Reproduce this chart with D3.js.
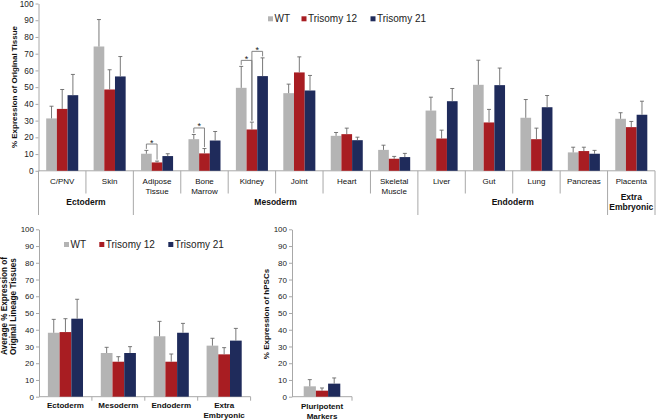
<!DOCTYPE html>
<html><head><meta charset="utf-8">
<script src="https://cdn.jsdelivr.net/npm/d3@7"></script>
<style>body{margin:0;background:#fff}svg{display:block}text{font-family:"Liberation Sans",Arial,Helvetica,sans-serif}</style>
</head><body><svg width="656" height="420"></svg>
<script>
// ---------- DATA ----------
const series = ["WT", "Trisomy 12", "Trisomy 21"];
const yTicks = [0, 10, 20, 30, 40, 50, 60, 70, 80, 90, 100];

// Top panel: individual tissues
const tissues = ["C/PNV", "Skin", "Adipose Tissue", "Bone Marrow", "Kidney", "Joint", "Heart",
  "Skeletal Muscle", "Liver", "Gut", "Lung", "Pancreas", "Placenta"];
const tissueLabels = [["C/PNV"], ["Skin"], ["Adipose", "Tissue"], ["Bone", "Marrow"], ["Kidney"], ["Joint"],
  ["Heart"], ["Skeletal", "Muscle"], ["Liver"], ["Gut"], ["Lung"], ["Pancreas"], ["Placenta"]];
const lineages = ["Ectoderm", "Mesoderm", "Endoderm", "Extra Embryonic"];
const lineageLabels = [["Ectoderm"], ["Mesoderm"], ["Endoderm"], ["Extra", "Embryonic"]];
const tissueLineage = [0, 0, 1, 1, 1, 1, 1, 1, 2, 2, 2, 2, 3];

const wtTissue   = [31.3, 74.3, 10.2, 18.9, 49.6, 46.4, 20.9, 12.5, 36.0, 51.4, 31.7, 11.0, 31.1];
const wtTissueErr= [7.3, 16.1, 2.0, 2.8, 12.8, 5.4, 2.0, 2.8, 8.0, 14.7, 10.9, 3.1, 3.6];
const t12Tissue   = [37.0, 48.6, 5.0, 10.4, 24.7, 58.8, 21.9, 7.2, 19.3, 28.9, 18.9, 11.8, 26.1];
const t12TissueErr= [11.6, 11.8, 0.8, 2.9, 4.4, 9.3, 3.6, 1.4, 5.0, 7.8, 6.6, 2.3, 3.4];
const t21Tissue   = [45.2, 56.4, 8.8, 18.1, 56.6, 48.0, 18.3, 8.2, 41.6, 51.2, 38.0, 10.2, 33.5];
const t21TissueErr= [12.4, 11.9, 1.4, 5.4, 10.9, 9.0, 1.8, 2.2, 7.6, 10.2, 7.0, 2.0, 8.1];

// Significance brackets (tissue, from series, to series, bracket level in %)
const sigTissue = ["Adipose Tissue", "Bone Marrow", "Kidney", "Kidney"];
const sigFrom   = [0, 0, 0, 1];
const sigTo     = [1, 1, 1, 2];
const sigLevel  = [16, 25.6, 66, 71.4];

// Bottom-left panel: averages per lineage
const wtLineage    = [38.2, 26.1, 36.1, 30.5];
const wtLineageErr = [8.0, 3.4, 8.9, 4.4];
const t12Lineage    = [38.6, 20.9, 20.9, 25.3];
const t12LineageErr = [8.0, 3.0, 4.6, 4.0];
const t21Lineage    = [46.6, 26.1, 38.2, 33.5];
const t21LineageErr = [11.6, 3.8, 5.6, 7.3];

// Bottom-right panel: pluripotent markers
const pluriCats = ["Pluripotent Markers"];
const pluriLabels = [["Pluripotent", "Markers"]];
const wtPluri = [6.2], wtPluriErr = [4.0];
const t12Pluri = [3.6], t12PluriErr = [1.6];
const t21Pluri = [7.8], t21PluriErr = [3.4];

// ---------- STYLE ----------
const colors = ["#b4b4b4", "#a81d22", "#1f2b5b"];
const axisColor = "#a8a8a8";
const errColor = "#6a6a6a";
const svg = d3.select("svg");

function panel(o) {
  const g = svg.append("g");
  const x = d3.scaleBand().domain(o.cats).range([o.x0, o.x1]);
  const xs = d3.scaleBand().domain(series).range([0, x.bandwidth()]).paddingOuter(o.pad);
  const y = d3.scaleLinear().domain([0, 100]).range([o.yBottom, o.yTop]);

  const ax = g.append("g").attr("transform", `translate(${o.x0},0)`)
    .call(d3.axisLeft(y).tickValues(yTicks).tickSize(3).tickSizeOuter(0).tickPadding(2));
  ax.select(".domain").attr("stroke", axisColor);
  ax.selectAll(".tick line").attr("stroke", axisColor);
  ax.selectAll(".tick text").attr("fill", "#222").style("font-size", o.tickFont + "px")
    .style("font-family", '"Liberation Sans",Arial,sans-serif');

  // x axis baseline
  g.append("line").attr("x1", o.x0).attr("x2", o.x1).attr("y1", y(0)).attr("y2", y(0))
    .attr("stroke", axisColor);

  const bw = xs.bandwidth();
  o.values.forEach((vals, s) => {
    const errs = o.errors[s];
    o.cats.forEach((c, i) => {
      const bx = x(c) + xs(series[s]);
      g.append("rect").attr("x", bx).attr("y", y(vals[i])).attr("width", bw)
        .attr("height", y(0) - y(vals[i])).attr("fill", colors[s]);
      const cx = bx + bw / 2;
      const topY = y(vals[i] + errs[i]);
      g.append("line").attr("x1", cx).attr("x2", cx).attr("y1", y(vals[i])).attr("y2", topY)
        .attr("stroke", errColor).attr("stroke-width", 0.9);
      g.append("line").attr("x1", cx - 2).attr("x2", cx + 2).attr("y1", topY).attr("y2", topY)
        .attr("stroke", errColor).attr("stroke-width", 0.9);
    });
  });
  return { g, x, xs, y };
}

function legend(x0s, yc, fontSize) {
  series.forEach((s, i) => {
    svg.append("rect").attr("x", x0s[i]).attr("y", yc - 2.5).attr("width", 5).attr("height", 5)
      .attr("fill", colors[i]);
    svg.append("text").attr("x", x0s[i] + 6.5).attr("y", yc + 3.6).text(s)
      .style("font-size", fontSize + "px").attr("fill", "#222");
  });
}

function multiLine(x, y0, lines, size, bold, lh) {
  const t = svg.append("text").attr("x", x).attr("y", y0).attr("text-anchor", "middle")
    .style("font-size", size + "px").style("font-weight", bold ? "bold" : "normal").attr("fill", "#111");
  lines.forEach((l, k) => t.append("tspan").attr("x", x).attr("dy", k === 0 ? 0 : lh).text(l));
}

// ---------- TOP PANEL ----------
const topP = panel({
  cats: tissues, x0: 38.5, x1: 655, yTop: 3.5, yBottom: 170.8, pad: 0.72, tickFont: 8.3,
  values: [wtTissue, t12Tissue, t21Tissue], errors: [wtTissueErr, t12TissueErr, t21TissueErr]
});
// separators
tissues.forEach((c, i) => {
  const xb = topP.x(c);
  const groupEdge = i === 0 || tissueLineage[i] !== tissueLineage[i - 1];
  svg.append("line").attr("x1", xb).attr("x2", xb).attr("y1", topP.y(0)).attr("y2", groupEdge ? 215 : 193.5)
    .attr("stroke", axisColor);
});
svg.append("line").attr("x1", 655).attr("x2", 655).attr("y1", topP.y(0)).attr("y2", 215).attr("stroke", axisColor);
tissues.forEach((c, i) => {
  multiLine(topP.x(c) + topP.x.bandwidth() / 2, 183.5, tissueLabels[i], 8, false, 10);
});
lineages.forEach((l, li) => {
  const members = tissues.filter((c, i) => tissueLineage[i] === li);
  const xa = topP.x(members[0]), xb = topP.x(members[members.length - 1]) + topP.x.bandwidth();
  const lines = lineageLabels[li];
  multiLine((xa + xb) / 2, lines.length > 1 ? 199.5 : 204.5, lines, 8.5, true, 10);
});
// significance brackets
sigTissue.forEach((c, k) => {
  const bw = topP.xs.bandwidth();
  const i = tissues.indexOf(c);
  const vals = [wtTissue, t12Tissue, t21Tissue], errs = [wtTissueErr, t12TissueErr, t21TissueErr];
  const xa = topP.x(c) + topP.xs(series[sigFrom[k]]) + bw / 2;
  const xb = topP.x(c) + topP.xs(series[sigTo[k]]) + bw / 2;
  const ya = topP.y(vals[sigFrom[k]][i] + errs[sigFrom[k]][i]) - 1.5;
  const yb = topP.y(vals[sigTo[k]][i] + errs[sigTo[k]][i]) - 1.5;
  const yl = topP.y(sigLevel[k]);
  svg.append("path").attr("d", `M${xa},${ya}V${yl}H${xb}V${yb}`).attr("fill", "none")
    .attr("stroke", "#777").attr("stroke-width", 0.9);
  svg.append("text").attr("x", (xa + xb) / 2).attr("y", yl + 1.5).attr("text-anchor", "middle")
    .style("font-size", "9px").attr("fill", "#222").text("*");
});
legend([268, 301.5, 370.5], 18.8, 10);
svg.append("text").attr("transform", "translate(16.5,87) rotate(-90)").attr("text-anchor", "middle")
  .style("font-size", "8px").style("font-weight", "bold").attr("fill", "#111")
  .text("% Expression of Original Tissue");

// ---------- BOTTOM-LEFT PANEL ----------
const bl = panel({
  cats: lineages, x0: 39, x1: 250.6, yTop: 229.3, yBottom: 396.7, pad: 0.76, tickFont: 8,
  values: [wtLineage, t12Lineage, t21Lineage], errors: [wtLineageErr, t12LineageErr, t21LineageErr]
});
lineages.forEach((c, i) => {
  const xb = bl.x(c) + bl.x.bandwidth();
  svg.append("line").attr("x1", xb).attr("x2", xb).attr("y1", bl.y(0)).attr("y2", bl.y(0) + 4).attr("stroke", axisColor);
  multiLine(bl.x(c) + bl.x.bandwidth() / 2, 408.3, lineageLabels[i], 8, true, 10);
});
legend([64, 99.3, 168.3], 244.5, 10);
const ylab = svg.append("text").attr("transform", "translate(0,355) rotate(-90)")
  .style("font-size", "8.2px").style("font-weight", "bold").attr("fill", "#111");
ylab.append("tspan").attr("x", 0).attr("y", 6.5).text("Average % Expression of");
ylab.append("tspan").attr("x", 0).attr("y", 15.8).text("Original Lineage Tissues");

// ---------- BOTTOM-RIGHT PANEL ----------
const br = panel({
  cats: pluriCats, x0: 292, x1: 352, yTop: 229.3, yBottom: 396.7, pad: 0.96, tickFont: 8,
  values: [wtPluri, t12Pluri, t21Pluri], errors: [wtPluriErr, t12PluriErr, t21PluriErr]
});
svg.append("line").attr("x1", 352).attr("x2", 352).attr("y1", br.y(0)).attr("y2", br.y(0) + 4).attr("stroke", axisColor);
multiLine(br.x(pluriCats[0]) + br.x.bandwidth() / 2, 408.8, pluriLabels[0], 8, true, 10);
svg.append("text").attr("transform", "translate(269.2,314) rotate(-90)").attr("text-anchor", "middle")
  .style("font-size", "8px").style("font-weight", "bold").attr("fill", "#111")
  .text("% Expression of hPSCs");
</script></body></html>
